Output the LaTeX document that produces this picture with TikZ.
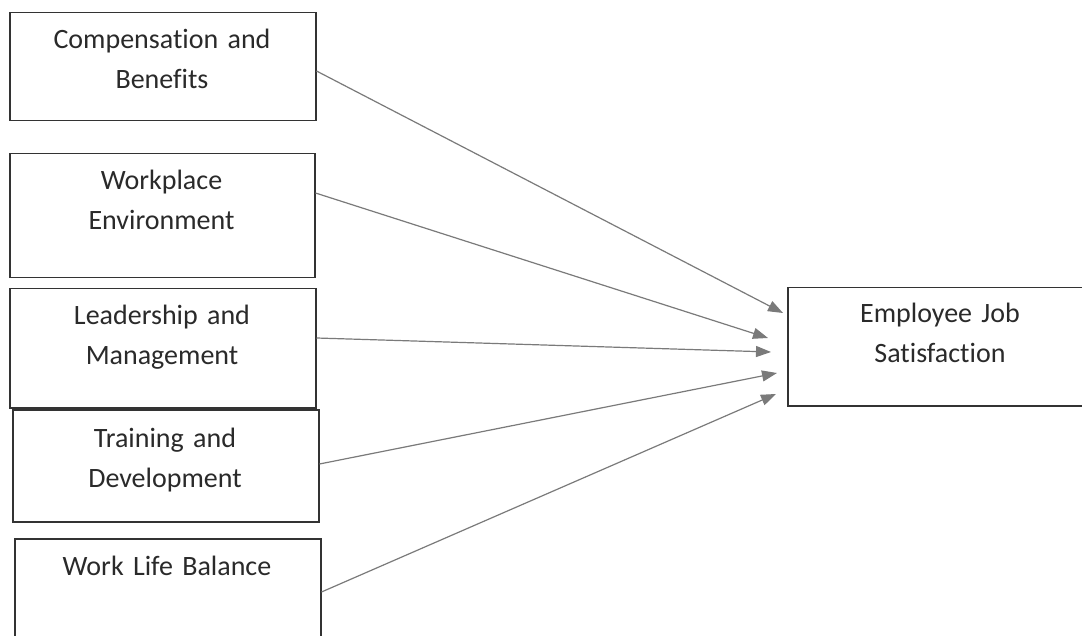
\documentclass[tikz,border=0pt]{standalone}
\usepackage{fontspec}
\setmainfont{Carlito}[Ligatures={NoCommon}, WordSpace=0.7]
\usetikzlibrary{arrows.meta}
\definecolor{boxline}{HTML}{333333}
\definecolor{txt}{HTML}{2A2A2A}
\definecolor{arrowgray}{HTML}{7A7A7A}
\tikzset{
  boxshape/.style={draw=boxline, line width=1.5pt, inner sep=0pt, anchor=north west, minimum width=306pt},
  lbl/.style={text=txt, font=\fontsize{28}{40}\selectfont, text width=300pt, align=center, inner sep=0pt, anchor=base},
  arr/.style={draw=arrowgray, line width=1.2pt, -{Triangle[length=15pt,width=11pt]}, arrowgray}
}
\begin{document}
\begin{tikzpicture}[x=1pt,y=-1pt]
\clip (0,0) rectangle (1082,636);
\fill[white] (0,0) rectangle (1082,636);
% boxes
\node[boxshape, minimum height=108pt] (b1) at (9,12) {};
\node[boxshape, minimum width=305pt, minimum height=124pt] (b2) at (9,153) {};
\node[boxshape, minimum height=119pt] (b3) at (9,288) {};
\node[boxshape, minimum height=112pt] (b4) at (12,409) {};
\node[boxshape, minimum height=142pt] (b5) at (14,538) {};
\node[boxshape, minimum width=313pt, minimum height=118pt] (b6) at (787,287) {};
% labels
\node[lbl] (l1) at (162,49) {Compensation and\\Benefits};
\node[lbl] (l2) at (161.5,190) {Workplace\\Environment};
\node[lbl] (l3) at (162,325) {Leadership and\\Management};
\node[lbl] (l4) at (165,447) {Training and\\Development};
\node[lbl] (l5) at (167,575) {Work Life Balance};
\node[lbl] (l6) at (940,323) {Employee Job\\Satisfaction};
% connector ends
\coordinate (s1) at (b1.east |- 0,71);
\coordinate (s2) at (b2.east |- 0,193);
\coordinate (s3) at (b3.east |- 0,338);
\coordinate (s4) at (b4.east |- 0,464);
\coordinate (s5) at (b5.east |- 0,592);
\coordinate (t1) at (783,313);
\coordinate (t2) at (768,338);
\coordinate (t3) at (771,352);
\coordinate (t4) at (777,373);
\coordinate (t5) at (776,394);
\draw[arr] (s1) -- (t1);
\draw[arr] (s2) -- (t2);
\draw[arr] (s3) -- (t3);
\draw[arr] (s4) -- (t4);
\draw[arr] (s5) -- (t5);
\end{tikzpicture}
\end{document}
